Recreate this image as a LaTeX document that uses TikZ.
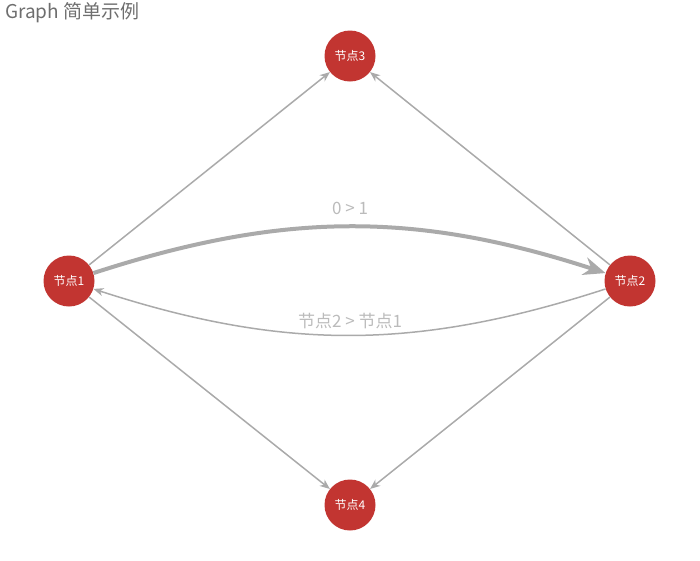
\documentclass[tikz,border=0pt]{standalone}
\usepackage{fontspec}
\setmainfont{Noto Sans CJK SC}
\usepackage{tikz}
\usetikzlibrary{arrows.meta}
\definecolor{nodered}{HTML}{C23531}
\definecolor{edgegray}{HTML}{AAAAAA}
\definecolor{labelgray}{HTML}{BBBBBB}
\definecolor{titlegray}{HTML}{6E6E6E}
\tikzstyle{graphnode} = [circle, minimum size=51pt, inner sep=0pt, fill=nodered, text=white, font=\fontsize{12}{12}\selectfont]
\tikzstyle{edge} = [draw=edgegray, line width=1.5pt, -{Stealth[length=10pt,width=8pt,inset=3pt]}]
\tikzstyle{thickedge} = [draw=edgegray, line width=4pt, -{Stealth[length=22pt,width=18pt,inset=7pt]}]
\tikzstyle{edgelabel} = [text=labelgray, font=\fontsize{17}{17}\selectfont]

\begin{document}
\begin{tikzpicture}[x=1pt, y=-1pt]
\useasboundingbox (0,0) rectangle (700,560);
\node (title) [anchor=west, text=titlegray, font=\fontsize{19}{19}\selectfont, inner sep=0pt] at (5,13) {Graph 简单示例};
\node (n1) [graphnode] at (69,281) {节点1};
\node (n2) [graphnode] at (630,281) {节点2};
\node (n3) [graphnode] at (350,56) {节点3};
\node (n4) [graphnode] at (350,505) {节点4};
\draw [edge] (n1) -- (n3);
\draw [edge] (n2) -- (n3);
\draw [edge] (n1) -- (n4);
\draw [edge] (n2) -- (n4);
\draw [thickedge] (n1) to[bend left=18] (n2);
\draw [edge] (n2) to[bend left=18] (n1);
\node (lab01) [edgelabel] at (350,208) {0 > 1};
\node (lab21) [edgelabel] at (350,321) {节点2 > 节点1};

\end{tikzpicture}
\end{document}
